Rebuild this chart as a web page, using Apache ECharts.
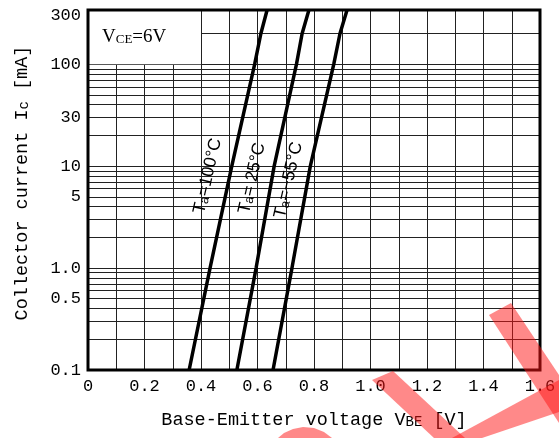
<!DOCTYPE html>
<html><head><meta charset="utf-8">
<script src="https://cdn.jsdelivr.net/npm/echarts@6/dist/echarts.min.js"></script>
<style>html,body{margin:0;padding:0;background:#fff}#c{width:559px;height:438px}</style>
</head><body><div id="c"></div>
<script>
// ---- axes ----
const X_MIN = 0, X_MAX = 1.6, X_STEP = 0.2;
const Y_MIN = 0.1, Y_MAX = 340;
const Y_GRID = [0.2,0.3,0.4,0.5,0.6,0.7,0.8,0.9,1,2,3,4,5,6,7,8,9,10,20,30,40,50,60,70,80,90,100,200];
const Y_LABEL_VALUES = [0.1, 0.5, 1, 5, 10, 30, 100, 300];
const Y_LABEL_TEXTS = ['0.1', '0.5', '1.0', '5', '10', '30', '100', '300'];
// ---- series (VBE [V] vs Ic [mA]) ----
const SERIES_LABELS = ['=100°C', '= 25°C', '=−55°C'];
const VBE_100 = [0.358, 0.432, 0.509, 0.590, 0.612, 0.634];
const IC_100  = [0.1, 1, 10, 100, 200, 340];
const VBE_25  = [0.527, 0.595, 0.659, 0.738, 0.758, 0.782];
const IC_25   = [0.1, 1, 10, 100, 200, 340];
const VBE_M55 = [0.655, 0.722, 0.787, 0.870, 0.892, 0.917];
const IC_M55  = [0.1, 1, 10, 100, 200, 340];
// ---- annotation anchors ----
const LABEL_ANCHORS = [[0.424, 8], [0.581, 7.6], [0.710, 7.3]];
const BOX_X = [0, 0.4], BOX_Y = [100, Y_MAX];

const MONO = "'Liberation Mono','Courier New',monospace";
const SERIF = "'Liberation Serif','Times New Roman',serif";
const SANS = "'Liberation Sans',Arial,sans-serif";

const chart = echarts.init(document.getElementById('c'), null, {renderer: 'canvas'});

const gridLineData = Y_GRID.map(v => ({yAxis: v}));
Y_LABEL_VALUES.forEach((v, i) => {
  gridLineData.push({
    // nudge inside the log extent so the boundary value is not filtered out
    yAxis: Math.max(v, Y_MIN * (1 + 1e-9)),
    lineStyle: Y_GRID.includes(v) ? undefined : {color: 'rgba(0,0,0,0)'},
    label: {show: true, position: 'start', distance: 7, formatter: Y_LABEL_TEXTS[i],
            fontFamily: MONO, fontSize: 17, color: '#000'}
  });
});

const zip = (a, b) => a.map((x, i) => [x, b[i]]);
const curveData = [zip(VBE_100, IC_100), zip(VBE_25, IC_25), zip(VBE_M55, IC_M55)];

const curves = curveData.map((d, i) => ({
  type: 'line', data: d, symbol: 'none', silent: true, z: 6,
  lineStyle: {color: '#000', width: 3.5},
  markPoint: {
    silent: true, z: 7, symbol: 'circle', symbolSize: 1,
    itemStyle: {color: 'rgba(0,0,0,0)'},
    data: [{
      coord: LABEL_ANCHORS[i],
      label: {
        show: true, position: 'inside', rotate: 77,
        formatter: '{t|T}{a|a}{t|' + SERIES_LABELS[i] + '}',
        rich: {
          t: {fontFamily: SANS, fontSize: 17.5, color: '#000', verticalAlign: 'bottom'},
          a: {fontFamily: SANS, fontSize: 13, color: '#000', verticalAlign: 'bottom'}
        }
      }
    }]
  }
}));

const option = {
  animation: false,
  backgroundColor: '#fff',
  grid: {left: 88, right: 19, top: 10, bottom: 68, show: true, borderColor: '#000', borderWidth: 3,
         backgroundColor: 'transparent', z: 10},
  xAxis: {
    type: 'value', min: X_MIN, max: X_MAX, interval: X_STEP,
    axisLine: {show: false}, axisTick: {show: false},
    splitLine: {show: true, lineStyle: {color: '#222', width: 1}},
    minorTick: {show: false, splitNumber: 2},
    minorSplitLine: {show: true, lineStyle: {color: '#222', width: 1}},
    axisLabel: {fontFamily: MONO, fontSize: 17, color: '#000', margin: 8,
                formatter: v => (Math.abs(v) < 1e-9 ? '0' : v.toFixed(1))},
    name: '{n|Base-Emitter voltage V}{s|BE}{n| [V]}',
    nameLocation: 'middle', nameGap: 41,
    nameTextStyle: {rich: {
      n: {fontFamily: MONO, fontSize: 18.5, color: '#000', verticalAlign: 'bottom'},
      s: {fontFamily: MONO, fontSize: 14, color: '#000', verticalAlign: 'bottom', padding: [0, 0, 1, 0]}
    }}
  },
  yAxis: {
    type: 'log', logBase: 10, min: Y_MIN, max: Y_MAX,
    axisLine: {show: false}, axisTick: {show: false}, axisLabel: {show: false},
    splitLine: {show: false},
    name: '{n|Collector current I}{s|c}{n| [mA]}',
    nameLocation: 'middle', nameRotate: 90, nameGap: 56,
    nameTextStyle: {padding: [0, 0, 0, 14], rich: {
      n: {fontFamily: MONO, fontSize: 18.5, color: '#000', verticalAlign: 'bottom'},
      s: {fontFamily: MONO, fontSize: 14, color: '#000', verticalAlign: 'bottom', padding: [0, 0, 1, 0]}
    }}
  },
  series: [
    {
      type: 'line', data: [], silent: true,
      markLine: {
        silent: true, z: 1, symbol: ['none', 'none'], animation: false,
        lineStyle: {color: '#222', width: 1, type: 'solid'},
        label: {show: false}, emphasis: {disabled: true},
        data: gridLineData
      }
    },
    {
      type: 'line', data: [], silent: true,
      markArea: {
        silent: true, z: 3,
        itemStyle: {color: '#fff', opacity: 1},
        label: {
          show: true, position: 'insideLeft', distance: 14,
          formatter: '{v|V}{s|CE}{v|=6V}',
          rich: {
            v: {fontFamily: SERIF, fontSize: 19, color: '#000', verticalAlign: 'bottom'},
            s: {fontFamily: SERIF, fontSize: 13, color: '#000', verticalAlign: 'bottom', padding: [0, 0, 1, 0]}
          }
        },
        data: [[{xAxis: BOX_X[0], yAxis: BOX_Y[0]}, {xAxis: BOX_X[1], yAxis: BOX_Y[1]}]]
      }
    },
    ...curves
  ],
  graphic: [
    {type: 'polygon', z: 100, silent: true, shape: {points: [[372,380],[393,371],[465,438],[434,438]]}, style: {fill: 'rgba(255,20,20,0.5)'}},
    {type: 'polygon', z: 100, silent: true, shape: {points: [[452,438],[559,380],[559,412],[482,438]]}, style: {fill: 'rgba(255,20,20,0.5)'}},
    {type: 'polygon', z: 100, silent: true, shape: {points: [[489,315],[511,303],[559,375],[559,423]]}, style: {fill: 'rgba(255,20,20,0.5)'}},
    {type: 'polygon', z: 100, silent: true, shape: {points: [[278,438],[284,433],[293,429],[303,427],[314,428],[324,432],[332,438]]}, style: {fill: 'rgba(255,20,20,0.5)'}}
  ]
};
chart.setOption(option);
</script>
</body></html>
